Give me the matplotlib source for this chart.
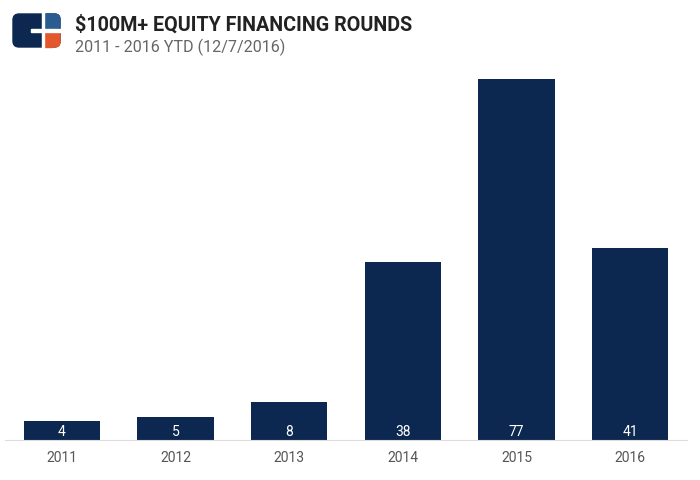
import matplotlib.pyplot as plt
from matplotlib.patches import FancyBboxPatch, Rectangle

years = ['2011', '2012', '2013', '2014', '2015', '2016']
rounds = [4, 5, 8, 38, 77, 41]

bar_color = '#0c2850'

plt.rcParams['font.family'] = ['Roboto', 'DejaVu Sans']

fig = plt.figure(figsize=(7, 4.8), dpi=100)
ax = fig.add_axes([5 / 700, 40 / 480, 682 / 700, 375.2 / 480])

x = range(len(years))
bars = ax.bar(x, rounds, width=0.67, color=bar_color, zorder=2)
for i, v in enumerate(rounds):
    ax.text(i, 1.7, str(v), ha='center', va='center', color='white', fontsize=10)

ax.set_xlim(-0.5, len(years) - 0.5)
ax.set_ylim(0, 80)
ax.set_xticks(list(x))
ax.set_xticklabels(years, color='#555555', fontsize=10)
ax.tick_params(axis='x', length=0, pad=8)
ax.set_yticks([])
for s in ['top', 'right', 'left']:
    ax.spines[s].set_visible(False)
ax.spines['bottom'].set_color('#dddddd')

# title block
fig.text(75 / 700, 1 - 25 / 480, '\\$100M+ EQUITY FINANCING ROUNDS', fontsize=14.2,
         fontweight='bold', color='#222222', va='center', ha='left')
fig.text(75 / 700, 1 - 47 / 480, '2011 - 2016 YTD (12/7/2016)', fontsize=11.6,
         color='#666666', va='center', ha='left')

# logo
W, H = 700, 480
def fx(px):
    return px / W
def fy(py):
    return 1 - py / H

logo = fig.add_axes([fx(11), fy(49), fx(51), 37 / H])
logo.set_xlim(0, 51)
logo.set_ylim(0, 37)
logo.axis('off')
logo.add_patch(FancyBboxPatch((2, 2), 47, 33, boxstyle='round,pad=0,rounding_size=6',
                              color='#0c2850'))
logo.add_patch(FancyBboxPatch((33, 19.5), 16, 15.5, boxstyle='round,pad=0,rounding_size=5',
                              color='#2a5d8f'))
logo.add_patch(Rectangle((33, 19.5), 8, 15.5, color='#2a5d8f'))
logo.add_patch(FancyBboxPatch((33, 2), 16, 15.5, boxstyle='round,pad=0,rounding_size=5',
                              color='#e2572b'))
logo.add_patch(Rectangle((33, 2), 8, 15.5, color='#e2572b'))
logo.add_patch(Rectangle((31, 0), 2, 37, color='white'))
logo.add_patch(Rectangle((31, 17.5), 20, 2, color='white'))
logo.add_patch(Rectangle((20, 17.5), 13, 2, color='white'))

fig.savefig('out.png', dpi=100)
